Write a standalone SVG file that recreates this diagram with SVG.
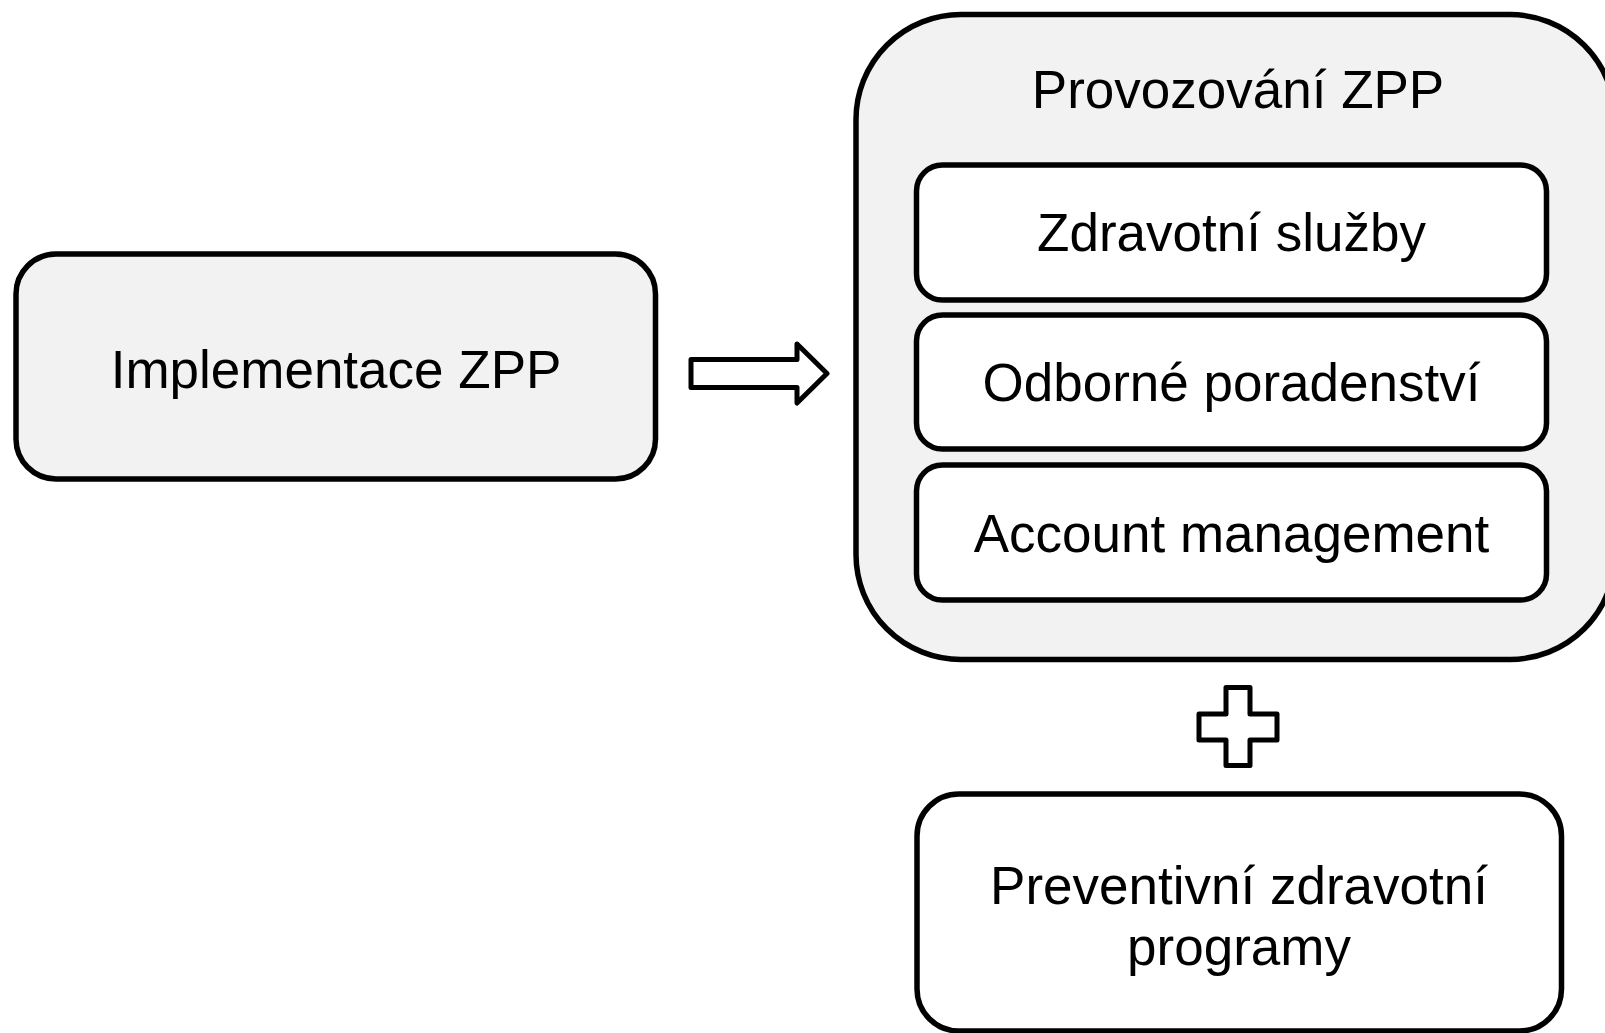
<svg xmlns="http://www.w3.org/2000/svg" width="1605" height="1033" viewBox="0 0 1605 1033">
<style>
.box{stroke:#000;stroke-width:5.5;}
.grey{fill:#f2f2f2;}
.white{fill:#fff;}
.lbl{font-family:"Liberation Sans",Arial,sans-serif;font-size:53px;fill:#000;text-anchor:middle;}
.sym{fill:#fff;stroke:#000;stroke-width:5;stroke-linejoin:round;}
</style>
<rect width="1605" height="1033" fill="#fff"/>
<g id="implementace">
<rect class="box grey" x="16" y="254" width="639.5" height="225" rx="40" ry="40"/>
<text class="lbl" x="336" y="388">Implementace ZPP</text>
</g>
<g id="provozovani">
<rect class="box grey" x="856" y="14.5" width="759" height="645" rx="105" ry="105"/>
<text class="lbl" x="1238" y="108">Provozování ZPP</text>
</g>
<g id="zdravotni-sluzby">
<rect class="box white" x="916.5" y="165" width="630" height="135" rx="26" ry="26"/>
<text class="lbl" x="1231.5" y="251">Zdravotní služby</text>
</g>
<g id="odborne-poradenstvi">
<rect class="box white" x="916.5" y="315" width="630" height="134" rx="26" ry="26"/>
<text class="lbl" x="1231.5" y="401">Odborné poradenství</text>
</g>
<g id="account-management">
<rect class="box white" x="916.5" y="465" width="630" height="135" rx="26" ry="26"/>
<text class="lbl" x="1231.5" y="552">Account management</text>
</g>
<g id="preventivni">
<rect class="box white" x="917" y="794" width="644.5" height="237" rx="42" ry="42"/>
<text class="lbl" x="1239" y="904">Preventivní zdravotní</text>
<text class="lbl" x="1239" y="965">programy</text>
</g>
<g id="connectors">
<polygon class="sym" points="691,359.5 797,359.5 797,344 827,373.5 797,403 797,387.5 691,387.5"/>
<polygon class="sym" points="1226,687.5 1250,687.5 1250,714 1277,714 1277,740 1250,740 1250,765.5 1226,765.5 1226,740 1199,740 1199,714 1226,714"/>
</g>
</svg>
